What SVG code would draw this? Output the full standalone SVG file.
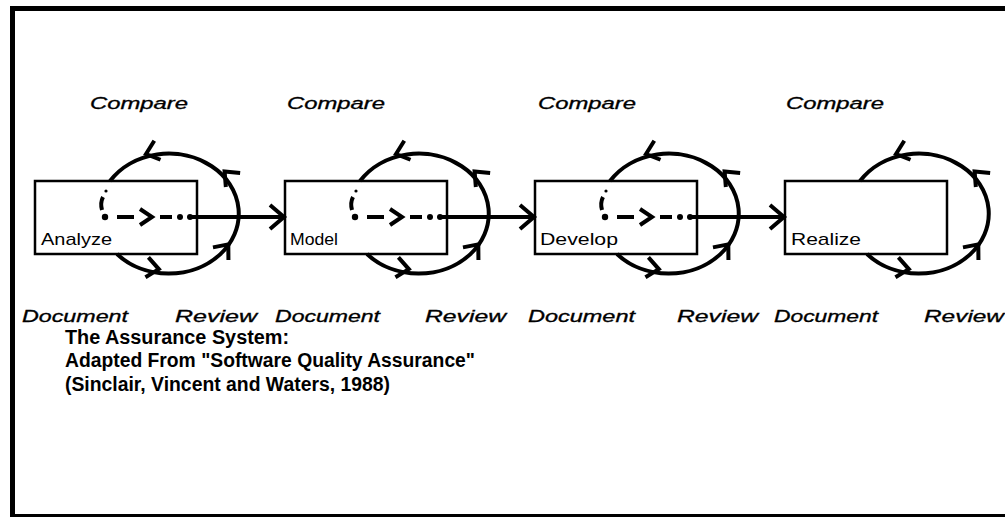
<svg xmlns="http://www.w3.org/2000/svg" xmlns:xlink="http://www.w3.org/1999/xlink" width="1005" height="517" viewBox="0 0 1005 517">
  <style>
    .frame { fill: #000; }
    .box { fill: #fff; stroke: #000; stroke-width: 2.5; }
    .boxlabel { font-family: "Liberation Sans", Arial, sans-serif; font-size: 17px; fill: #000; }
    .step { font-family: "Liberation Sans", Arial, sans-serif; font-style: italic; font-size: 16px; fill: #000; stroke: #000; stroke-width: 0.3; }
    .caption { font-family: "Liberation Sans", Arial, sans-serif; font-weight: bold; font-size: 20px; fill: #000; }
    .loop { fill: none; stroke: #000; stroke-width: 4; }
    .head { fill: none; stroke: #000; stroke-width: 4; stroke-linejoin: miter; }
    .dash { fill: none; stroke: #000; stroke-width: 4; }
    .dot { fill: #000; }
  </style>
  <defs>
    <!-- open chevron arrowheads pointing along +x, tip at origin -->
    <polyline id="chev" points="-12,-10 0,0 -12,10"/>
    <polyline id="chev-big" points="-14,-12 0,0 -14,12"/>
    <polyline id="chev-small" points="-12,-8 0,0 -12,8"/>
    <!-- review loop drawn relative to the top-left corner of a stage box -->
    <g id="loop">
      <path class="loop" d="M 82 73 A 70 60 0 1 0 75 0"/>
      <use xlink:href="#chev" class="head" transform="translate(111,-27) rotate(161.8)"/>
      <use xlink:href="#chev" class="head" transform="translate(189.6,-9.6) rotate(-134.4)"/>
      <use xlink:href="#chev" class="head" transform="translate(193.3,63.4) rotate(-50.7)"/>
      <use xlink:href="#chev" class="head" transform="translate(123.8,88.1) rotate(8.6)"/>
    </g>
    <!-- dotted exit from the loop, then the hand-off arrow to the next box -->
    <g id="handoff">
      <circle class="dot" cx="71" cy="10" r="1.6"/>
      <path class="dash" d="M 68 16 Q 65 22 67 29" stroke-width="3.5"/>
      <circle class="dot" cx="70" cy="36" r="3.2"/>
      <line class="dash" x1="82" y1="36" x2="99" y2="36"/>
      <use xlink:href="#chev-small" class="head" transform="translate(117,36)"/>
      <line class="dash" x1="125" y1="36" x2="137" y2="36"/>
      <circle class="dot" cx="145" cy="36" r="3"/>
      <circle class="dot" cx="155" cy="36" r="3"/>
      <line class="dash" x1="157" y1="36" x2="248" y2="36"/>
      <use xlink:href="#chev-big" class="head" transform="translate(249,36)"/>
    </g>
  </defs>

  <rect width="1005" height="517" fill="#fff"/>

  <!-- outer frame -->
  <g id="frame">
    <rect class="frame" x="10" y="6" width="995" height="5"/>
    <rect class="frame" x="10" y="6" width="5" height="511"/>
    <rect class="frame" x="10" y="514" width="995" height="3"/>
  </g>

  <!-- stage boxes -->
  <g id="analyze">
    <rect class="box" x="35" y="181" width="162" height="73"/>
    <text class="boxlabel" x="41" y="245" textLength="71" lengthAdjust="spacingAndGlyphs">Analyze</text>
  </g>
  <g id="model">
    <rect class="box" x="285" y="181" width="162" height="73"/>
    <text class="boxlabel" x="290" y="245" textLength="48" lengthAdjust="spacingAndGlyphs">Model</text>
  </g>
  <g id="develop">
    <rect class="box" x="535" y="181" width="162" height="73"/>
    <text class="boxlabel" x="540" y="245" textLength="78" lengthAdjust="spacingAndGlyphs">Develop</text>
  </g>
  <g id="realize">
    <rect class="box" x="785" y="181" width="162" height="73"/>
    <text class="boxlabel" x="791" y="245" textLength="70" lengthAdjust="spacingAndGlyphs">Realize</text>
  </g>

  <!-- review loops and hand-off arrows -->
  <g id="connectors">
    <use xlink:href="#loop" transform="translate(35,181)"/>
    <use xlink:href="#loop" transform="translate(285,181)"/>
    <use xlink:href="#loop" transform="translate(535,181)"/>
    <use xlink:href="#loop" transform="translate(785,181)"/>
    <use xlink:href="#handoff" transform="translate(35,181)"/>
    <use xlink:href="#handoff" transform="translate(285,181)"/>
    <use xlink:href="#handoff" transform="translate(535,181)"/>
  </g>

  <!-- loop step labels -->
  <g id="step-labels">
    <text class="step" x="90" y="109" textLength="98" lengthAdjust="spacingAndGlyphs">Compare</text>
    <text class="step" x="287" y="109" textLength="98" lengthAdjust="spacingAndGlyphs">Compare</text>
    <text class="step" x="538" y="109" textLength="98" lengthAdjust="spacingAndGlyphs">Compare</text>
    <text class="step" x="786" y="109" textLength="98" lengthAdjust="spacingAndGlyphs">Compare</text>

    <text class="step" x="22" y="322" textLength="106" lengthAdjust="spacingAndGlyphs">Document</text>
    <text class="step" x="175" y="322" textLength="82" lengthAdjust="spacingAndGlyphs">Review</text>
    <text class="step" x="275" y="322" textLength="105" lengthAdjust="spacingAndGlyphs">Document</text>
    <text class="step" x="425" y="322" textLength="81" lengthAdjust="spacingAndGlyphs">Review</text>
    <text class="step" x="528" y="322" textLength="107" lengthAdjust="spacingAndGlyphs">Document</text>
    <text class="step" x="677" y="322" textLength="81" lengthAdjust="spacingAndGlyphs">Review</text>
    <text class="step" x="774" y="322" textLength="104" lengthAdjust="spacingAndGlyphs">Document</text>
    <text class="step" x="924" y="322" textLength="80" lengthAdjust="spacingAndGlyphs">Review</text>
  </g>

  <!-- caption -->
  <g id="caption">
    <text class="caption" x="65" y="344" textLength="224" lengthAdjust="spacingAndGlyphs">The Assurance System:</text>
    <text class="caption" x="65" y="367" textLength="410" lengthAdjust="spacingAndGlyphs">Adapted From "Software Quality Assurance"</text>
    <text class="caption" x="65" y="391" textLength="325" lengthAdjust="spacingAndGlyphs">(Sinclair, Vincent and Waters, 1988)</text>
  </g>
</svg>
